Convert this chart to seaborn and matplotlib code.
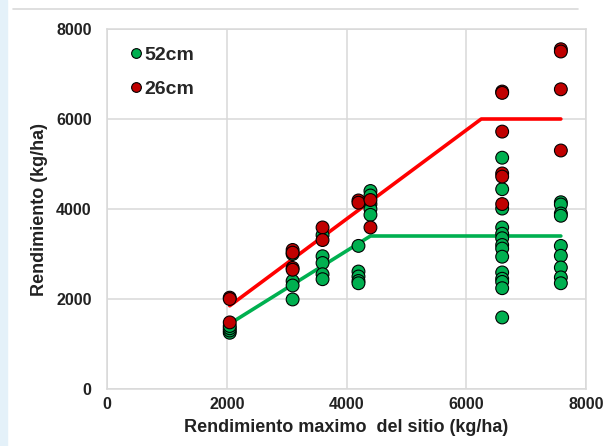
import matplotlib
matplotlib.use("Agg")
import matplotlib.pyplot as plt
from matplotlib.lines import Line2D
from matplotlib.patches import Rectangle
import pandas as pd
import seaborn as sns

# datos
x_52 = [2050] * 4 + [3100] * 4 + [3600] * 5 + [4200] * 5 + [4400] * 5 + [6600] * 14 + [7580] * 9
y_52 = [1250, 1300, 1350, 1400,
        3000, 2400, 2300, 1990,
        3420, 2950, 2800, 2550, 2440,
        3180, 2610, 2500, 2400, 2350,
        4400, 4300, 4110, 4000, 3870,
        5140, 4440, 4010, 3590, 3450, 3350, 3200, 3120, 2940, 2590, 2450, 2380, 2240, 1590,
        4150, 4100, 3900, 3850, 3180, 2960, 2700, 2480, 2350]

x_26 = [2050] * 3 + [3100] * 4 + [3600] * 2 + [4200] * 2 + [4400] * 2 + [6600] * 6 + [7580] * 4
y_26 = [2030, 2000, 1480,
        3090, 3030, 2690, 2650,
        3590, 3310,
        4190, 4140,
        4200, 3590,
        6610, 6580, 5720, 4790, 4720, 4110,
        7550, 7500, 6660, 5300]

# modelos lineal-plateau
linea_52_x = [2050, 4400, 7580]
linea_52_y = [1450, 3400, 3400]
linea_26_x = [2050, 6250, 7580]
linea_26_y = [1850, 6000, 6000]

ticks = [0, 2000, 4000, 6000, 8000]

verde = "#00B050"
rojo_punto = "#C00000"
rojo_linea = "#FF0000"

puntos = pd.DataFrame({
    "x": x_52 + x_26,
    "y": y_52 + y_26,
    "esp": ["52cm"] * len(x_52) + ["26cm"] * len(x_26),
})
lineas = pd.DataFrame({
    "x": linea_52_x + linea_26_x,
    "y": linea_52_y + linea_26_y,
    "esp": ["52cm"] * 3 + ["26cm"] * 3,
})

sns.set_theme(style="whitegrid")
plt.rcParams["font.family"] = ["Liberation Sans", "DejaVu Sans"]

fig = plt.figure(figsize=(6.07, 4.46), dpi=100)
ax = fig.add_axes([107 / 607, 57 / 446, 479 / 607, 360 / 446])

sns.lineplot(data=lineas, x="x", y="y", hue="esp",
             palette={"52cm": verde, "26cm": rojo_linea},
             linewidth=2.6, sort=False, estimator=None, legend=False, ax=ax, zorder=2)
sns.scatterplot(data=puntos, x="x", y="y", hue="esp",
                palette={"52cm": verde, "26cm": rojo_punto},
                s=85, edgecolor="black", linewidth=0.8, legend=False, ax=ax, zorder=3)

ax.set_xlim(0, 8000)
ax.set_ylim(0, 8000)
ax.set_xticks(ticks)
ax.set_yticks(ticks)
ax.grid(True, color="#D9D9D9", linewidth=1.1)
for s in ax.spines.values():
    s.set_color("#D9D9D9")
    s.set_linewidth(1.1)
ax.tick_params(axis="x", pad=6, labelsize=11.5, colors="#222222", length=0)
ax.tick_params(axis="y", pad=11, labelsize=11.5, colors="#222222", length=0)
for lab in ax.get_xticklabels() + ax.get_yticklabels():
    lab.set_fontweight("bold")

ax.set_xlabel("Rendimiento maximo  del sitio (kg/ha)", fontsize=13, fontweight="bold",
              color="#222222", labelpad=5)
ax.set_ylabel("Rendimiento (kg/ha)", fontsize=13, fontweight="bold",
              color="#222222", labelpad=6)

handles = [
    Line2D([], [], marker="o", linestyle="", markersize=7, markerfacecolor=verde,
           markeredgecolor="black", markeredgewidth=0.8, label="52cm"),
    Line2D([], [], marker="o", linestyle="", markersize=7, markerfacecolor=rojo_punto,
           markeredgecolor="black", markeredgewidth=0.8, label="26cm"),
]
ax.legend(handles=handles, loc="upper left", bbox_to_anchor=(0.02, 0.99), frameon=False,
          prop={"size": 14, "weight": "bold"}, handlelength=0.6, handletextpad=0.15,
          labelspacing=0.85, borderaxespad=0.3)

# decoracion del recorte original
fig.patches.append(Rectangle((0, 0), 7 / 607, 1, transform=fig.transFigure,
                             color="#E4F1F9", zorder=0))
fig.add_artist(Line2D([13 / 607, 578 / 607], [1 - 9 / 446, 1 - 9 / 446],
                      transform=fig.transFigure, color="#D9D9D9", linewidth=1.2))

fig.savefig("out.png", dpi=100)
